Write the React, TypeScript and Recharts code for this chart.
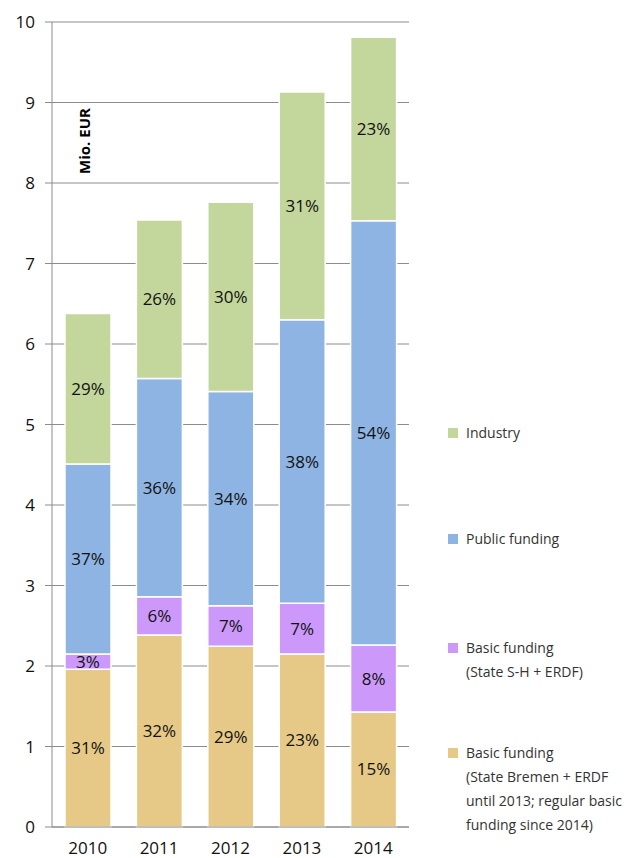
import { Bar, BarChart, CartesianGrid, LabelList, XAxis, YAxis } from "recharts";

const YEARS = ["2010", "2011", "2012", "2013", "2014"];
// Mio. EUR per segment
const BREMEN = [1.96, 2.385, 2.245, 2.15, 1.43];
const SH = [0.19, 0.475, 0.505, 0.63, 0.83];
const PUBLIC = [2.36, 2.71, 2.66, 3.52, 5.27];
const INDUSTRY = [1.87, 1.97, 2.35, 2.83, 2.28];
// share labels (%)
const BREMEN_PCT = [31, 32, 29, 23, 15];
const SH_PCT = [3, 6, 7, 7, 8];
const PUBLIC_PCT = [37, 36, 34, 38, 54];
const INDUSTRY_PCT = [29, 26, 30, 31, 23];
const Y_TICKS = [0, 1, 2, 3, 4, 5, 6, 7, 8, 9, 10];

const SERIES = [
  { key: "industry", color: "#c3d69b", lines: ["Industry"], top: 421 },
  { key: "public", color: "#8eb4e3", lines: ["Public funding"], top: 527 },
  { key: "sh", color: "#cc99fa", lines: ["Basic funding", "(State S-H + ERDF)"], top: 636 },
  {
    key: "bremen",
    color: "#e6c987",
    lines: ["Basic funding", "(State Bremen + ERDF", "until 2013; regular basic", "funding since 2014)"],
    top: 741,
  },
];

const data = YEARS.map((year, i) => ({
  year,
  bremen: BREMEN[i],
  sh: SH[i],
  public: PUBLIC[i],
  industry: INDUSTRY[i],
  bremenPct: BREMEN_PCT[i],
  shPct: SH_PCT[i],
  publicPct: PUBLIC_PCT[i],
  industryPct: INDUSTRY_PCT[i],
}));

const FONT = "'Open Sans', sans-serif";
const colorOf = (k: string) => SERIES.find((s) => s.key === k)!.color;
const pct = (v: unknown) => `${String(v)}%`;

export default function App() {
  const stack = ["bremen", "sh", "public", "industry"];
  return (
    <div style={{ position: "absolute", left: 0, top: 0, width: 633, height: 858, background: "#fff", fontFamily: FONT }}>
      <BarChart
        width={633}
        height={858}
        data={data}
        margin={{ top: 22, right: 224, left: 0, bottom: 0 }}
        barSize={46}
      >
        <CartesianGrid vertical={false} stroke="#8c8c8c" strokeWidth={1} />
        <XAxis
          dataKey="year"
          height={31}
          tickLine={false}
          tickSize={6}
          tickMargin={9}
          stroke="#8c8c8c"
          tick={{ fill: "#111", fontSize: 17, fontFamily: FONT }}
        />
        <YAxis
          width={52}
          domain={[0, 10]}
          ticks={Y_TICKS}
          interval={0}
          tickSize={7}
          tickMargin={10}
          stroke="#8c8c8c"
          tick={{ fill: "#111", fontSize: 17, fontFamily: FONT }}
        />
        {stack.map((k) => (
          <Bar
            key={k}
            dataKey={k}
            stackId="a"
            fill={colorOf(k)}
            stroke="#ffffff"
            strokeWidth={1.5}
            isAnimationActive={false}
          >
            <LabelList
              dataKey={`${k}Pct`}
              position="center"
              formatter={pct}
              style={{ fill: "#111", fontSize: 17, fontFamily: FONT }}
            />
          </Bar>
        ))}
      </BarChart>

      <div
        style={{
          position: "absolute",
          left: 84,
          top: 141,
          transform: "translate(-50%, -50%) rotate(-90deg)",
          fontWeight: 700,
          fontSize: 15,
          whiteSpace: "nowrap",
          color: "#000",
        }}
      >
        Mio. EUR
      </div>

      {SERIES.map((s) => (
        <div key={s.key} style={{ position: "absolute", left: 448, top: s.top, display: "flex" }}>
          <div style={{ width: 10, height: 10, background: s.color, marginTop: 7, marginRight: 8 }} />
          <div style={{ fontSize: 14, lineHeight: "24px", color: "#333" }}>
            {s.lines.map((l) => (
              <div key={l} style={{ whiteSpace: "nowrap" }}>
                {l}
              </div>
            ))}
          </div>
        </div>
      ))}
    </div>
  );
}
